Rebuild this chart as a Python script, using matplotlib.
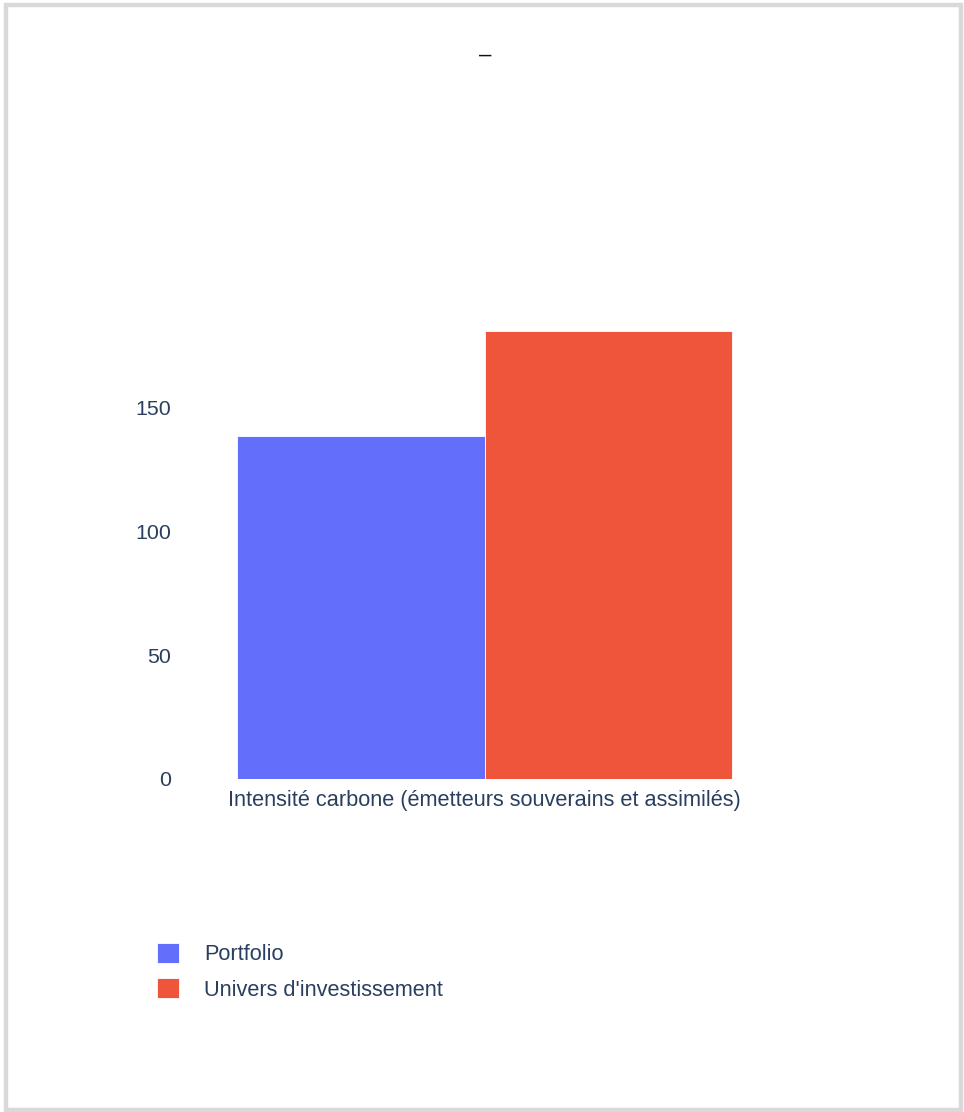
import matplotlib
matplotlib.use("Agg")
import matplotlib.pyplot as plt
from matplotlib.patches import Patch, Rectangle

categories = ["Intensité carbone (émetteurs souverains et assimilés)"]
series_names = ["Portfolio", "Univers d'investissement"]
portfolio = [138.7]
univers = [181.0]
colors = ["#636efa", "#ef553b"]
yticks = [0, 50, 100, 150]
title = "–"

plt.rcParams['font.family'] = ['Liberation Sans', 'DejaVu Sans']
W, H = 964, 1112
fig = plt.figure(figsize=(W / 100, H / 100), dpi=100)
fig.patch.set_facecolor("white")

# border
fig.add_artist(Rectangle((5.5 / W, 1 - 1110 / H), 955.5 / W, 1105 / H,
                         transform=fig.transFigure, fill=False,
                         edgecolor="#d9d9d9", linewidth=3.2))

ax_l, ax_r, ax_t, ax_b = 175, 794, 309, 779
ax = fig.add_axes([ax_l / W, 1 - ax_b / H, (ax_r - ax_l) / W, (ax_b - ax_t) / H])

x = list(range(len(categories)))
w = 0.4
ax.bar([xi - w / 2 for xi in x], portfolio, width=w, color=colors[0],
       edgecolor="white", linewidth=0.6, label=series_names[0])
ax.bar([xi + w / 2 for xi in x], univers, width=w, color=colors[1],
       edgecolor="white", linewidth=0.6, label=series_names[1])

ax.set_xlim(-0.5, len(categories) - 0.5)
ax.set_ylim(0, 190)
ax.set_xticks(x)
ax.set_xticklabels(categories)
ax.set_yticks(yticks)
ax.set_yticklabels([str(t) for t in yticks])
for s in ax.spines.values():
    s.set_visible(False)
ax.tick_params(axis="y", length=0, labelsize=15.4, labelcolor="#2a3f5f", pad=3)
ax.tick_params(axis="x", length=0, labelsize=15.7, labelcolor="#2a3f5f", pad=8)

fig.text(485 / W, 1 - 55 / H, title, ha="center", va="center",
         fontsize=16, color="#111111")

handles = [Patch(facecolor=c, edgecolor="white", linewidth=0.6) for c in colors]
fig.legend(handles, series_names, loc="upper left",
           bbox_to_anchor=(157 / W, 1 - 943 / H), frameon=False,
           fontsize=15.7, labelcolor="#2a3f5f", borderpad=0, borderaxespad=0,
           handlelength=1.0, handleheight=1.0, handletextpad=1.15,
           labelspacing=0.6)

fig.savefig("out.png", dpi=100, facecolor="white")
